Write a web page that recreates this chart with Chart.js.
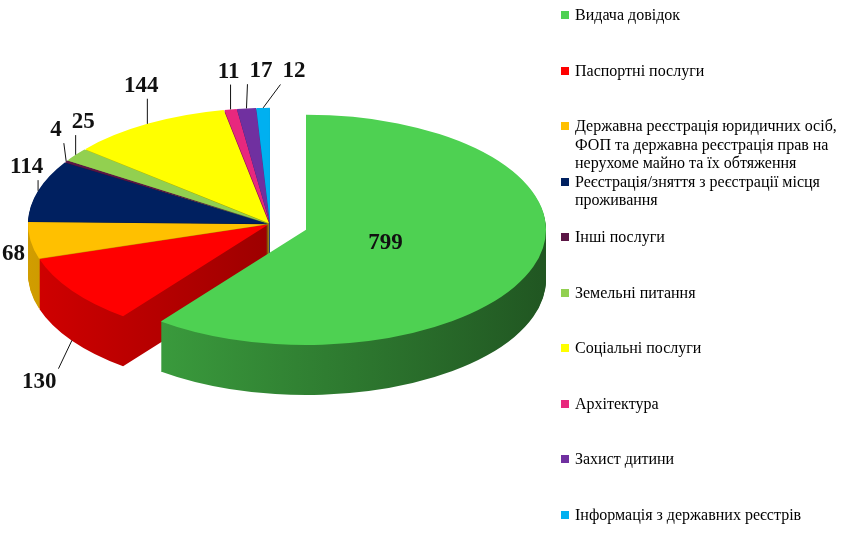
<!DOCTYPE html>
<html lang="uk">
<head>
<meta charset="utf-8">
<title>Послуги ЦНАП</title>
<script src="https://cdn.jsdelivr.net/npm/chart.js@4.4.1/dist/chart.umd.min.js"></script>
<style>
  html, body { margin: 0; padding: 0; background: #fff; }
  #wrap { position: relative; width: 850px; height: 559px; overflow: hidden; }
  #chart { position: absolute; left: 0; top: 0; }
  #legend {
    position: absolute; left: 561px; top: 0; width: 285px;
    margin: 0; padding: 0; list-style: none;
    font: 16px "Liberation Serif", "Times New Roman", serif; color: #000;
  }
  #legend li { position: absolute; left: 0; width: 272px; padding-left: 14px; line-height: 18.5px; }
  #legend .box { position: absolute; left: 0; top: 5px; width: 8px; height: 8px; }
</style>
</head>
<body>
<div id="wrap">
  <canvas id="chart" width="850" height="559"></canvas>
  <ul id="legend"></ul>
</div>
<script>
const categories = [
  'Видача довідок',
  'Паспортні послуги',
  'Державна реєстрація юридичних осіб, ФОП та державна реєстрація прав на нерухоме майно та їх обтяження',
  'Реєстрація/зняття з реєстрації місця проживання',
  'Інші послуги',
  'Земельні питання',
  'Соціальні послуги',
  'Архітектура',
  'Захист дитини',
  'Інформація з державних реєстрів'
];
const requests = [799, 130, 68, 114, 4, 25, 144, 11, 17, 12];
const sliceColors = ['#4ed152', '#ff0000', '#ffc000', '#002060', '#5b1645', '#92d050', '#ffff00', '#e8287e', '#7030a0', '#00b0f0'];

const SQUASH = 0.48;  // vertical flattening of the pie
const DEPTH = 50;     // thickness of the 3d side, px

function shade(hex, k) {
  const n = parseInt(hex.slice(1), 16);
  const r = Math.round(((n >> 16) & 255) * k);
  const g = Math.round(((n >> 8) & 255) * k);
  const b = Math.round((n & 255) * k);
  return 'rgb(' + r + ',' + g + ',' + b + ')';
}

function faceOptions(fill) {
  return {
    backgroundColor: fill, borderColor: fill, borderWidth: 0, offset: 0, spacing: 0,
    borderAlign: 'center', circular: true, borderRadius: 0, borderJoinStyle: 'round',
    borderDash: [], borderDashOffset: 0, selfJoin: false
  };
}

// draw one arc element flattened, moved down by dy and pulled out by its offset
function paintSlice(ctx, arc, fill, dy) {
  const half = (arc.startAngle + arc.endAngle) / 2;
  const off = arc.options.offset || 0;
  ctx.save();
  ctx.translate(Math.cos(half) * off, arc.y + dy + Math.sin(half) * off * SQUASH);
  ctx.scale(1, SQUASH);
  ctx.translate(0, -arc.y);
  const face = Object.create(arc);
  face.options = faceOptions(fill);
  arc.draw.call(face, ctx);
  ctx.restore();
}

const pie3d = {
  id: 'pie3d',
  beforeDatasetsDraw(chart) {
    const ctx = chart.ctx;
    const arcs = chart.getDatasetMeta(0).data;
    const sides = arcs.map((arc, i) => {
      const g = ctx.createLinearGradient(arc.x - arc.outerRadius, 0, arc.x + arc.outerRadius + 40, 0);
      g.addColorStop(0, shade(sliceColors[i], 0.82));
      g.addColorStop(1, shade(sliceColors[i], 0.38));
      return g;
    });
    for (let d = DEPTH; d > 0; d--) {
      arcs.forEach((arc, i) => paintSlice(ctx, arc, sides[i], d));
    }
    arcs.forEach((arc, i) => paintSlice(ctx, arc, sliceColors[i], 0));
    return false;
  },
  afterDraw(chart) {
    const ctx = chart.ctx;
    const arcs = chart.getDatasetMeta(0).data;
    const total = requests.reduce((a, b) => a + b, 0);
    ctx.save();
    ctx.font = 'bold 23px "Liberation Serif", "Times New Roman", serif';
    ctx.fillStyle = '#111';
    ctx.strokeStyle = '#111';
    ctx.lineWidth = 1;
    ctx.textAlign = 'center';
    ctx.textBaseline = 'middle';
    let prev = null;
    arcs.forEach((arc, i) => {
      const text = String(requests[i]);
      const half = (arc.startAngle + arc.endAngle) / 2;
      const c = Math.cos(half), s = Math.sin(half);
      const off = arc.options.offset || 0;
      const ox = arc.x + c * off, oy = arc.y + s * off * SQUASH;
      const R = arc.outerRadius;
      if (requests[i] / total > 0.25) {
        ctx.fillText(text, ox + c * R * 0.35, oy + s * R * 0.35 * SQUASH);
        return;
      }
      const down = s > 0 ? DEPTH * Math.min(1, 3 * s * s) : 0;
      const ex = ox + c * R, ey = oy + s * R * SQUASH + down;
      const w = ctx.measureText(text).width, h = 22;
      let lx, ly;
      if (s > 0) {
        lx = ex + c * 40;
        ly = ey + s * 72;
      } else {
        lx = ex + c * 12;
        ly = ey + s * 36 - 14 * Math.abs(c);
      }
      lx = Math.max(w / 2 + 2, lx);
      let box = { x0: lx - w / 2, x1: lx + w / 2, y0: ly - h / 2, y1: ly + h / 2 };
      if (prev && box.x0 < prev.x1 + 10 && box.y1 > prev.y0 && box.y0 < prev.y1) {
        const shift = prev.x1 + 10 - box.x0;
        lx += shift;
        box = { x0: box.x0 + shift, x1: box.x1 + shift, y0: box.y0, y1: box.y1 };
      }
      prev = box;
      ctx.fillText(text, lx, ly);
      const px = Math.min(Math.max(ex, box.x0 - 2), box.x1 + 2);
      const py = Math.min(Math.max(ey, box.y0 - 2), box.y1 + 2);
      if (Math.hypot(px - ex, py - ey) > 8) {
        ctx.beginPath();
        ctx.moveTo(ex, ey);
        ctx.lineTo(px, py);
        ctx.stroke();
      }
    });
    ctx.restore();
  }
};

new Chart(document.getElementById('chart'), {
  type: 'pie',
  data: {
    labels: categories,
    datasets: [{
      data: requests,
      backgroundColor: sliceColors,
      borderWidth: 0,
      radius: 240,
      offset: requests.map((v, i) => i === 0 ? 38 : 2),
      clip: false
    }]
  },
  options: {
    responsive: false,
    animation: false,
    events: [],
    layout: { padding: { left: 0, right: 310, top: 0, bottom: 111 } },
    plugins: {
      legend: { display: false },
      tooltip: { enabled: false }
    }
  },
  plugins: [pie3d]
});

// legend on the right, one row every 55.5px
const legend = document.getElementById('legend');
categories.forEach((name, i) => {
  const li = document.createElement('li');
  li.style.top = (6 + i * 55.5) + 'px';
  const box = document.createElement('span');
  box.className = 'box';
  box.style.background = sliceColors[i];
  li.appendChild(box);
  li.appendChild(document.createTextNode(name));
  legend.appendChild(li);
});
</script>
</body>
</html>
